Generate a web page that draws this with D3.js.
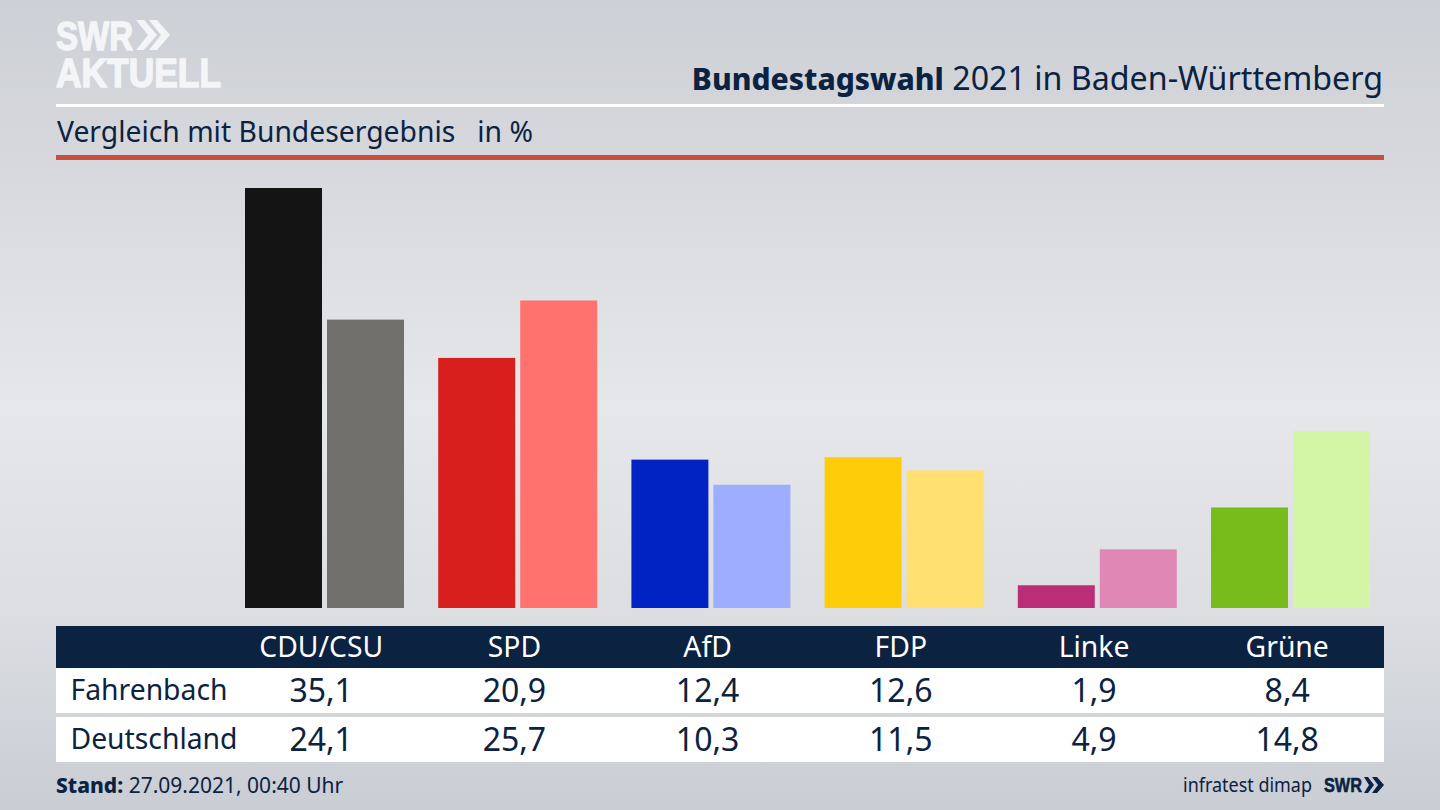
<!DOCTYPE html>
<html lang="de">
<head>
<meta charset="utf-8">
<script src="https://cdn.jsdelivr.net/npm/d3@7"></script>
<style>
    html, body { margin: 0; padding: 0; background: #d8dade; }
    svg { display: block; }
    text { font-family: "Noto Sans", Lato, sans-serif; fill: #0b2240; }
</style>
</head>
<body>
<div id="chart"></div>
<script>
const parties = ['CDU/CSU', 'SPD', 'AfD', 'FDP', 'Linke', 'Grüne'];
const regions = ['Fahrenbach', 'Deutschland'];
const fahrenbach = [35.1, 20.9, 12.4, 12.6, 1.9, 8.4];
const deutschland = [24.1, 25.7, 10.3, 11.5, 4.9, 14.8];
const coloursFahrenbach = ['#141414', '#d81f1d', '#0123c4', '#ffcc0a', '#bb2d76', '#78bc1b'];
const coloursDeutschland = ['#72706d', '#ff726e', '#9eadff', '#ffe070', '#e087b5', '#d2f5a6'];

const width = 1440, height = 810;
const left = 56, right = 1384;
const baseline = 608, topOfBars = 188;
const navy = '#0b2240';

const svg = d3.select('#chart').append('svg')
    .attr('width', width)
    .attr('height', height);

// Background, light band in the middle and darker corners
const defs = svg.append('defs');
const bg = defs.append('linearGradient')
    .attr('id', 'bg')
    .attr('x1', 0).attr('y1', 0).attr('x2', 0).attr('y2', 1);
[[0, '#cdd0d6'], [0.2, '#d6d8dd'], [0.5, '#e6e7ea'], [0.75, '#dcdee2'], [1, '#c9cdd4']]
    .forEach(s => bg.append('stop').attr('offset', s[0]).attr('stop-color', s[1]));
svg.append('rect').attr('width', width).attr('height', height).attr('fill', 'url(#bg)');

// Logo
const logo = svg.append('g');
[['SWR', 50, 77], ['AKTUELL', 87, 165]].forEach(d => {
    logo.append('text')
        .attr('x', 56).attr('y', d[1])
        .attr('textLength', d[2]).attr('lengthAdjust', 'spacingAndGlyphs')
        .style('font-family', '"Liberation Sans Narrow", "Liberation Sans"')
        .style('font-weight', 700).style('font-size', '41px')
        .style('fill', '#f4f5f6').style('stroke', '#f4f5f6').style('stroke-width', 1.5)
        .text(d[0]);
});
logo.append('path')
    .attr('d', 'M136,20h8l13,15l-13,15h-8l12,-15zM149,20h8l13,15l-13,15h-8l12,-15z')
    .attr('fill', '#f4f5f6');

// Title and rules
const title = svg.append('text')
    .attr('x', 1383).attr('y', 90)
    .attr('text-anchor', 'end');
title.append('tspan').style('font-weight', 800).style('font-size', '30px').text('Bundestagswahl');
title.append('tspan').style('font-size', '32.2px').text(' 2021 in Baden-Württemberg');

svg.append('rect').attr('x', left).attr('y', 104).attr('width', right - left).attr('height', 3).attr('fill', '#ffffff');

svg.append('text')
    .attr('x', 57).attr('y', 142)
    .attr('xml:space', 'preserve')
    .style('font-size', '28.3px')
    .text('Vergleich mit Bundesergebnis   in %');

svg.append('rect').attr('x', left).attr('y', 155).attr('width', right - left).attr('height', 5).attr('fill', '#c8503c');

// Scales
const x = d3.scaleBand()
    .domain(parties)
    .range([224.6, 1383.8]);

const xInner = d3.scaleBand()
    .domain(regions)
    .range([20.4, 179.4])
    .paddingInner(5 / 82);

const y = d3.scaleLinear()
    .domain([0, d3.max(fahrenbach)])
    .range([baseline, topOfBars]);

// Bars
const groups = svg.selectAll('.party')
    .data(parties)
    .join('g')
    .attr('class', 'party')
    .attr('transform', d => `translate(${x(d)},0)`);

groups.append('rect')
    .attr('x', xInner(regions[0]))
    .attr('width', xInner.bandwidth())
    .attr('y', (d, i) => y(fahrenbach[i]))
    .attr('height', (d, i) => y(0) - y(fahrenbach[i]))
    .attr('fill', (d, i) => coloursFahrenbach[i]);

groups.append('rect')
    .attr('x', xInner(regions[1]))
    .attr('width', xInner.bandwidth())
    .attr('y', (d, i) => y(deutschland[i]))
    .attr('height', (d, i) => y(0) - y(deutschland[i]))
    .attr('fill', (d, i) => coloursDeutschland[i]);

// Table below the bars
svg.append('rect').attr('x', left).attr('y', 626).attr('width', right - left).attr('height', 42).attr('fill', navy);
svg.append('rect').attr('x', left).attr('y', 668).attr('width', right - left).attr('height', 45).attr('fill', '#ffffff');
svg.append('rect').attr('x', left).attr('y', 717).attr('width', right - left).attr('height', 45).attr('fill', '#ffffff');

// Party names use the band scale as an axis
const axis = svg.append('g')
    .attr('transform', 'translate(0,626)')
    .call(d3.axisBottom(x).tickSize(0).tickPadding(6));
axis.select('.domain').remove();
axis.selectAll('text')
    .attr('y', 31).attr('dy', 0)
    .style('font-family', '"Noto Sans", Lato, sans-serif')
    .style('font-size', '28.3px')
    .style('fill', '#ffffff');

const formatValue = d => d.toFixed(1).replace('.', ',');

[fahrenbach, deutschland].forEach((values, r) => {
    const baselineY = r === 0 ? 701 : 750;
    svg.append('text')
        .attr('x', 70.5).attr('y', baselineY - 1)
        .style('font-size', '28.3px')
        .text(regions[r]);
    svg.selectAll(`.value-${r}`)
        .data(values)
        .join('text')
        .attr('class', `value-${r}`)
        .attr('x', (d, i) => x(parties[i]) + x.bandwidth() / 2)
        .attr('y', baselineY + 1)
        .attr('text-anchor', 'middle')
        .style('font-size', '32px')
        .text(formatValue);
});

// Footer
const stand = svg.append('text')
    .attr('x', 56).attr('y', 793)
    .style('font-size', '21px');
stand.append('tspan').style('font-weight', 800).text('Stand:');
stand.append('tspan').text(' 27.09.2021, 00:40 Uhr');

svg.append('text')
    .attr('x', 1183).attr('y', 792)
    .attr('textLength', 129).attr('lengthAdjust', 'spacingAndGlyphs')
    .style('font-size', '20px')
    .text('infratest dimap');

svg.append('text')
    .attr('x', 1324).attr('y', 792)
    .attr('textLength', 38).attr('lengthAdjust', 'spacingAndGlyphs')
    .style('font-family', '"Liberation Sans Narrow", "Liberation Sans"')
    .style('font-weight', 700).style('font-size', '21px')
    .style('stroke', navy).style('stroke-width', 0.6)
    .text('SWR');

svg.append('path')
    .attr('d', 'M1364,777h4l6,8l-6,8h-4l5,-8zM1372,777h5l7,8l-7,8h-5l6,-8z')
    .attr('fill', navy);
</script>
</body>
</html>
